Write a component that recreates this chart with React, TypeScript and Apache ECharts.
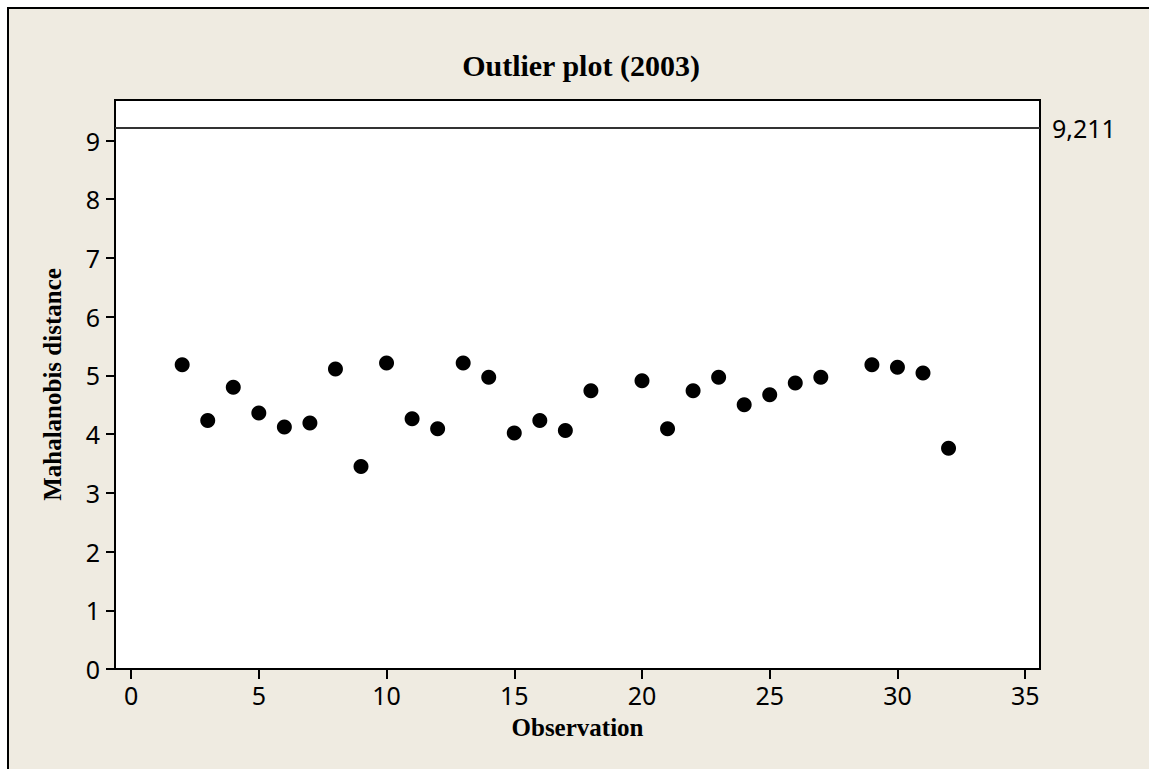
import React, { useEffect, useRef } from "react";
import * as echarts from "echarts";

const observations = [2, 3, 4, 5, 6, 7, 8, 9, 10, 11, 12, 13, 14, 15, 16, 17, 18, 20, 21, 22, 23, 24, 25, 26, 27, 29, 30, 31, 32];
const distances = [5.18, 4.23, 4.8, 4.36, 4.12, 4.19, 5.11, 3.45, 5.21, 4.26, 4.09, 5.21, 4.97, 4.02, 4.23, 4.06, 4.74, 4.91, 4.09, 4.74, 4.97, 4.5, 4.67, 4.87, 4.97, 5.18, 5.14, 5.04, 3.76];
const xTicks = [0, 5, 10, 15, 20, 25, 30, 35];
const yTicks = [0, 1, 2, 3, 4, 5, 6, 7, 8, 9];
const cutoff = 9.211;
const cutoffLabel = "9,211";

const SANS = "'Noto Sans', 'Open Sans', sans-serif";
const SERIF = "'Liberation Serif', 'DejaVu Serif', serif";

export default function App() {
  const ref = useRef<HTMLDivElement>(null);
  useEffect(() => {
    if (!ref.current) return;
    const chart = echarts.init(ref.current, null, { renderer: "svg" });
    chart.setOption({
      animation: false,
      graphic: [
        {
          type: "text",
          x: 581,
          y: 65,
          style: {
            text: "Outlier plot (2003)",
            fontFamily: SERIF,
            fontWeight: "bold",
            fontSize: 30,
            fill: "#000",
            textAlign: "center",
            textVerticalAlign: "middle",
          },
        },
      ],
      grid: {
        left: 115,
        top: 100,
        width: 925,
        height: 569,
        show: true,
        backgroundColor: "#fff",
        borderColor: "#000",
        borderWidth: 2,
      },
      xAxis: {
        type: "value",
        min: -0.63,
        max: 35.58,
        name: "Observation",
        nameLocation: "middle",
        nameGap: 46,
        nameTextStyle: { fontFamily: SERIF, fontWeight: "bold", fontSize: 25, color: "#000" },
        axisLine: { show: true, onZero: false, lineStyle: { color: "#000", width: 2 } },
        axisTick: { show: true, inside: false, length: 10, lineStyle: { color: "#000", width: 2 }, customValues: xTicks },
        axisLabel: { customValues: xTicks, margin: 13, fontFamily: SANS, fontSize: 25, color: "#000" },
        splitLine: { show: false },
      },
      yAxis: {
        type: "value",
        min: 0,
        max: 9.69,
        name: "Mahalanobis distance",
        nameLocation: "middle",
        nameGap: 50,
        nameTextStyle: { fontFamily: SERIF, fontWeight: "bold", fontSize: 25, color: "#000" },
        axisLine: { show: true, onZero: false, lineStyle: { color: "#000", width: 2 } },
        axisTick: { show: true, inside: false, length: 9, lineStyle: { color: "#000", width: 2 }, customValues: yTicks },
        axisLabel: { customValues: yTicks, margin: 15, fontFamily: SANS, fontSize: 25, color: "#000" },
        splitLine: { show: false },
      },
      series: [
        {
          type: "scatter",
          symbol: "circle",
          symbolSize: 15,
          itemStyle: { color: "#000", opacity: 1 },
          data: observations.map((o, i) => [o, distances[i]]),
          markLine: {
            silent: true,
            symbol: "none",
            lineStyle: { color: "#333", width: 2, type: "solid" },
            label: {
              show: true,
              position: "end",
              distance: 12,
              formatter: cutoffLabel,
              fontFamily: SANS,
              fontSize: 25,
              color: "#000",
            },
            data: [{ yAxis: cutoff }],
          },
        },
      ],
    });
    return () => chart.dispose();
  }, []);
  return (
    <div style={{ position: "absolute", left: 0, top: 0, width: 1149, height: 769, background: "#fff", overflow: "hidden" }}>
      <div
        style={{
          position: "absolute",
          left: 7,
          top: 7,
          right: 0,
          bottom: 0,
          background: "#EFEBE1",
          borderLeft: "2px solid #000",
          borderTop: "2px solid #000",
        }}
      />
      <div ref={ref} style={{ position: "absolute", left: 0, top: 0, width: 1149, height: 769 }} />
    </div>
  );
}
